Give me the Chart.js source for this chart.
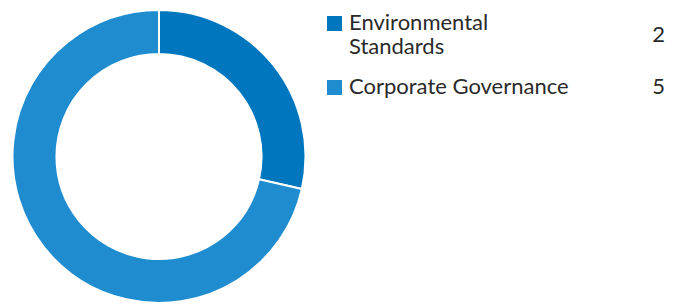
<!DOCTYPE html>
<html><head><meta charset="utf-8">
<script src="https://cdn.jsdelivr.net/npm/chart.js@4"></script>
<style>
html,body{margin:0;padding:0;background:#fff;}
#wrap{position:relative;width:683px;height:304px;}
#c{position:absolute;left:0;top:0;}
#legend{position:absolute;left:327px;top:10px;width:340px;font-family:Lato,"Open Sans",sans-serif;font-size:22px;color:#2a2a2a;}
.item{position:relative;margin-bottom:16px;line-height:24px;}
.sw{position:absolute;left:0;top:6px;width:15px;height:15px;}
.lbl{margin-left:22px;width:280px;white-space:nowrap;}
.val{position:absolute;right:2px;top:12px;}
.item.single .val{top:0;}
</style></head>
<body>
<div id="wrap"><canvas id="c" width="318" height="304"></canvas><div id="legend"></div></div>
<script>
const categories = ["Environmental Standards", "Corporate Governance"];
const legendLines = [["Environmental", "Standards"], ["Corporate Governance"]];
const values = [2, 5];
const colors = ["#0076BF", "#1E8CCF"];

new Chart(document.getElementById('c'), {
  type: 'doughnut',
  data: { labels: categories, datasets: [{ data: values, backgroundColor: colors, borderColor: '#fff', borderWidth: 2 }] },
  options: {
    responsive: false, animation: false, cutout: '70%',
    layout: { padding: { top: 9, bottom: 0, left: 11, right: 11 } },
    plugins: { legend: { display: false }, tooltip: { enabled: false } }
  }
});

const lg = document.getElementById('legend');
categories.forEach((c, i) => {
  const d = document.createElement('div');
  d.className = 'item' + (legendLines[i].length === 1 ? ' single' : '');
  d.innerHTML = '<div class="sw" style="background:' + colors[i] + '"></div><div class="lbl">' + legendLines[i].join('<br>') + '</div><div class="val">' + values[i] + '</div>';
  lg.appendChild(d);
});
</script>
</body></html>
